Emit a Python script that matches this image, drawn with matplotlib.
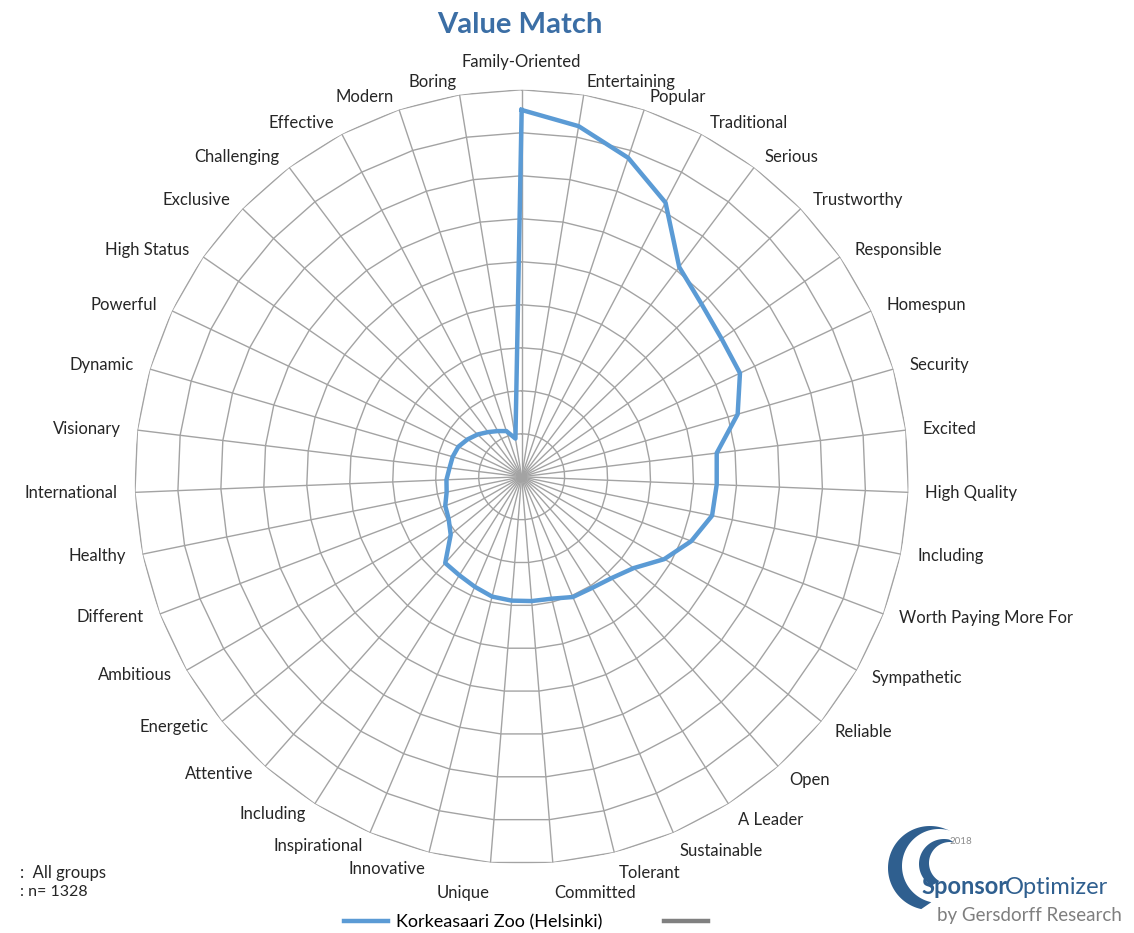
import numpy as np
import matplotlib.pyplot as plt
from matplotlib.lines import Line2D
from matplotlib.patches import Polygon

plt.rcParams['font.family'] = ['Lato', 'DejaVu Sans']

# data (one grid ring = 1 unit)
categories = [
    "Family-Oriented", "Entertaining", "Popular", "Traditional", "Serious",
    "Trustworthy", "Responsible", "Homespun", "Security", "Excited",
    "High Quality", "Including", "Worth Paying More For", "Sympathetic",
    "Reliable", "Open", "A Leader", "Sustainable", "Tolerant", "Committed",
    "Unique", "Innovative", "Inspirational", "Including", "Attentive",
    "Energetic", "Ambitious", "Different", "Healthy", "International",
    "Visionary", "Dynamic", "Powerful", "High Status", "Exclusive",
    "Challenging", "Effective", "Modern", "Boring",
]
zoo_values = [
    8.53, 8.26, 7.82, 7.20, 6.10,
    5.80, 5.65, 5.62, 5.23, 4.57,
    4.54, 4.52, 4.22, 3.83,
    3.36, 3.15, 3.06, 3.04, 2.92, 2.90,
    2.89, 2.87, 2.78, 2.71, 2.68,
    2.13, 1.96, 1.90, 1.78, 1.75,
    1.69, 1.67, 1.63, 1.53, 1.42,
    1.30, 1.20, 1.12, 0.90,
]
ring_levels = [1, 2, 3, 4, 5, 6, 7, 8, 9]
series_name = "Korkeasaari Zoo (Helsinki)"
title = "Value Match"
notes = [":  All groups", ": n= 1328"]

GRID = "#a3a3a3"
BLUE = "#5b9bd5"
DARK = "#262626"
LOGO = "#2f5f8f"

n = len(categories)
angles = np.arange(n) * 2 * np.pi / n
closed = np.append(angles, angles[0])

fig = plt.figure(figsize=(11.34, 9.33), dpi=100)
ax = fig.add_axes([0.1187, 0.0742, 0.6826, 0.8296], projection="polar")
ax.set_theta_offset(np.pi / 2)
ax.set_theta_direction(-1)
rmax = ring_levels[-1]
ax.set_ylim(0, rmax)

# spokes
ax.set_xticks(angles)
ax.set_xticklabels([])
ax.xaxis.grid(True, color=GRID, lw=1.0)
ax.set_yticks([])
ax.spines["polar"].set_visible(False)
ax.tick_params(length=0)

# polygon rings
for lvl in ring_levels:
    ax.plot(closed, [lvl] * (n + 1), color=GRID, lw=1.0, zorder=1)

ax.plot(closed, np.append(zoo_values, zoo_values[0]), color=BLUE, lw=3.2,
        solid_joinstyle="round", zorder=3)

# category labels around the outside (offsets in pixels)
for ang, lab in zip(angles, categories):
    s, c = np.sin(ang), np.cos(ang)
    if s > 0.05:
        ha = "left"
    elif s < -0.05:
        ha = "right"
    else:
        ha = "center"
    dx = 17 * s
    if abs(s) < 0.05:
        dy = 28
    elif c >= 0:
        dy = 13 * c
    elif s > 0:
        dy = -21 * abs(c) ** 1.5
    else:
        dy = -(9 * abs(c) + 10 * abs(c) ** 8)
    if ha != "center" and c < -0.99:
        dy = -30
    ax.annotate(lab, xy=(ang, rmax), xytext=(dx * 0.72, dy * 0.72),
                textcoords="offset points", ha=ha, va="center",
                fontsize=12, color=DARK, annotation_clip=False)

fig.text(520 / 1134, 1 - 25 / 933, title, ha="center", va="center",
         fontsize=21, fontweight="bold", color="#3b6ea5")

# legend
handles = [Line2D([], [], color=BLUE, lw=3.2), Line2D([], [], color="#808080", lw=3.2)]
fig.legend(handles, [series_name, ""], ncol=2, loc="center",
           bbox_to_anchor=(530 / 1134, 1 - 922 / 933), frameon=False,
           fontsize=13, handlelength=2.45, handletextpad=0.45, columnspacing=3.4)

fig.text(20 / 1134, 1 - 873 / 933, notes[0], ha="left", va="center", fontsize=12, color=DARK)
fig.text(20 / 1134, 1 - 892 / 933, notes[1], ha="left", va="center", fontsize=11.5, color=DARK)

# logo
lax = fig.add_axes([0, 0, 1, 1], zorder=-1)
lax.set_xlim(0, 1134)
lax.set_ylim(933, 0)
lax.axis("off")


def crescent(cx1, cy1, r1, cx2, cy2, r2, a0, a1, color):
    t = np.radians(np.linspace(a0, a1, 60))
    outer = np.column_stack([cx1 + r1 * np.cos(t), cy1 - r1 * np.sin(t)])
    inner = np.column_stack([cx2 + r2 * np.cos(t[::-1]), cy2 - r2 * np.sin(t[::-1])])
    lax.add_patch(Polygon(np.vstack([outer, inner]), closed=True, color=color, lw=0))


crescent(930, 868, 42, 939, 866, 37, 72, 258, LOGO)
crescent(944, 864, 25, 950, 863, 21, 78, 240, LOGO)

fig.text(950 / 1134, 1 - 842 / 933, "2018", fontsize=7, color="#8c8c8c", ha="left", va="center")
fig.text(921 / 1134, 1 - 887 / 933, "Sponsor", fontsize=17, fontweight="bold",
         color=LOGO, ha="left", va="center")
fig.text(1005 / 1134, 1 - 887 / 933, "Optimizer", fontsize=17, color=LOGO,
         ha="left", va="center")
fig.text(1122 / 1134, 1 - 915 / 933, "by Gersdorff Research", fontsize=13.5,
         color="#7f7f7f", ha="right", va="center")

fig.savefig("out.png", dpi=100)
